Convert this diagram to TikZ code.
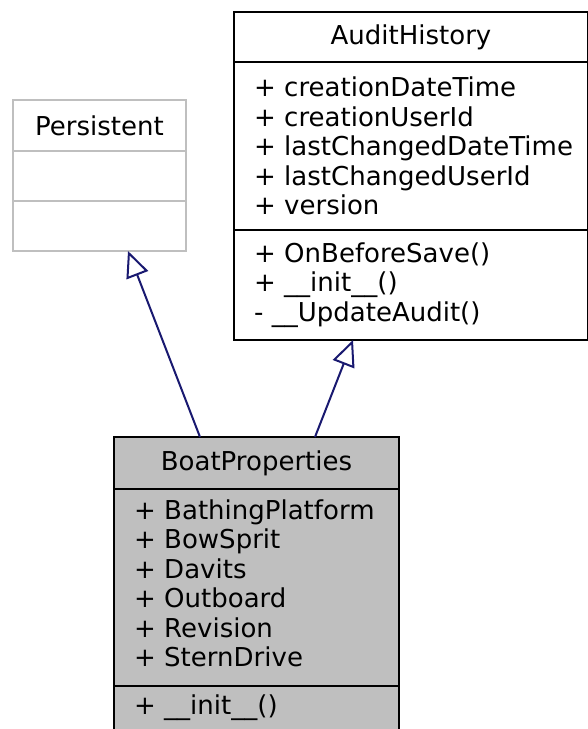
\documentclass[tikz,border=0pt]{standalone}
\usepackage{fontspec}
\setmainfont{DejaVu Sans}
\usetikzlibrary{arrows.meta}
\definecolor{edgeblue}{RGB}{25,25,112}
\definecolor{boxgrey}{RGB}{191,191,191}

\begin{document}
\begin{tikzpicture}[x=1pt,y=1pt,
    every node/.style={font=\fontsize{26}{29.5}\selectfont},
    cell/.style 2 args={draw,line width=2pt,anchor=north west,
      minimum width=#1,minimum height=#2,inner sep=0pt,outer sep=0pt},
    faded/.style={draw=boxgrey},
    members/.style={anchor=west,align=left,inner sep=0pt},
    inherit/.style={draw=edgeblue,line width=2pt,
      -{Triangle[open,length=26pt,width=23pt]}}]

  \useasboundingbox (0,0) rectangle (587,-729);

  % Persistent
  \node[cell={173pt}{51pt},faded] (pers) at (13,-100) {Persistent};
  \node[cell={173pt}{50pt},faded,anchor=north] (persA) at (pers.south) {};
  \node[cell={173pt}{50pt},faded,anchor=north] (persM) at (persA.south) {};

  % AuditHistory
  \node[cell={354pt}{50pt}] (audit) at (234,-12) {AuditHistory};
  \node[cell={354pt}{168pt},anchor=north] (auditA) at (audit.south) {};
  \node[cell={354pt}{110pt},anchor=north] (auditM) at (auditA.south) {};
  \node[members] (auditAt) at ([xshift=20pt]auditA.west)
    {+ creationDateTime\\+ creationUserId\\+ lastChangedDateTime\\+ lastChangedUserId\\+ version};
  \node[members] (auditMt) at ([xshift=20pt]auditM.west)
    {+ OnBeforeSave()\\+ \_\_init\_\_()\\- \_\_UpdateAudit()};

  % BoatProperties
  \node[cell={285pt}{52pt},fill=boxgrey] (boat) at (114,-437) {BoatProperties};
  \node[cell={285pt}{197pt},fill=boxgrey,anchor=north] (boatA) at (boat.south) {};
  \node[cell={285pt}{44pt},fill=boxgrey,anchor=north] (boatM) at (boatA.south) {};
  \node[members] (boatAt) at ([xshift=20pt,yshift=4pt]boatA.west)
    {+ BathingPlatform\\+ BowSprit\\+ Davits\\+ Outboard\\+ Revision\\+ SternDrive};
  \node[members] (boatMt) at ([xshift=20pt]boatM.west) {+ \_\_init\_\_()};

  \draw[inherit] ([xshift=-56.5pt]boat.north) -- ([xshift=28.5pt]persM.south);
  \draw[inherit] ([xshift=58.5pt]boat.north) -- ([xshift=-58pt]auditM.south);

\end{tikzpicture}
\end{document}
